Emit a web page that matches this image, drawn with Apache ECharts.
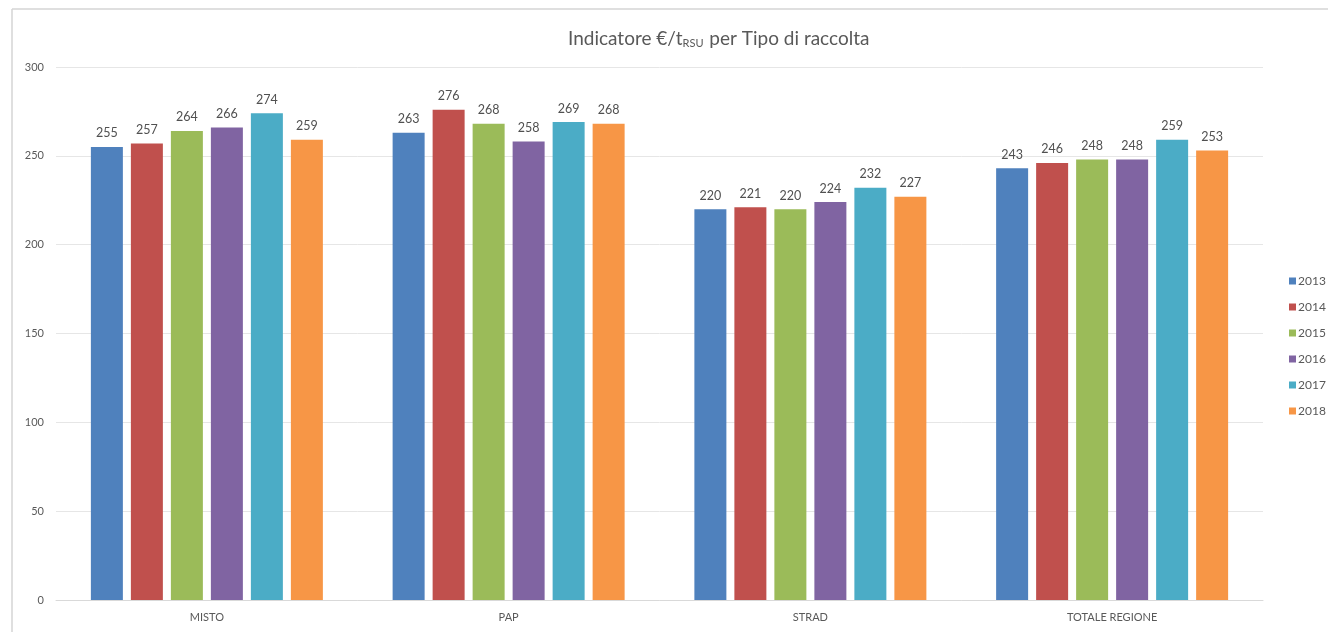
<!DOCTYPE html>
<html>
<head>
<meta charset="utf-8">
<script src="https://cdn.jsdelivr.net/npm/echarts@6/dist/echarts.min.js"></script>
<style>
  html, body { margin: 0; padding: 0; background: #fff; }
  #chart { width: 1328px; height: 632px; }
</style>
</head>
<body>
<div id="chart"></div>
<script>
// Collection types on the x axis
const categories = ['MISTO', 'PAP', 'STRAD', 'TOTALE REGIONE'];
// Years shown as series
const years = ['2013', '2014', '2015', '2016', '2017', '2018'];
// €/t values per year, one entry per collection type
const v2013 = [255, 263, 220, 243];
const v2014 = [257, 276, 221, 246];
const v2015 = [264, 268, 220, 248];
const v2016 = [266, 258, 224, 248];
const v2017 = [274, 269, 232, 259];
const v2018 = [259, 268, 227, 253];
const seriesValues = [v2013, v2014, v2015, v2016, v2017, v2018];
const colors = ['#4F81BD', '#C0504D', '#9BBB59', '#8064A2', '#4BACC6', '#F79646'];

const FONT = 'Lato, "Open Sans", sans-serif';
const chart = echarts.init(document.getElementById('chart'));

chart.setOption({
  animation: false,
  textStyle: { fontFamily: FONT },
  // chart frame: only its top and left edges fall inside the page
  graphic: [
    { type: 'line', shape: { x1: 12, y1: 9, x2: 1328, y2: 9 }, style: { stroke: '#d4d4d4', lineWidth: 1.5 }, z: -1 },
    { type: 'line', shape: { x1: 12, y1: 9, x2: 12, y2: 632 }, style: { stroke: '#d4d4d4', lineWidth: 1.5 }, z: -1 }
  ],
  title: {
    text: 'Indicatore €/t{sub|RSU} per Tipo di raccolta',
    left: 563,
    top: 23,
    textStyle: {
      fontFamily: FONT,
      fontSize: 19,
      fontWeight: 'normal',
      color: '#595959',
      rich: {
        sub: { fontSize: 11, color: '#595959', fontFamily: FONT, padding: [10, 1, 0, 0] }
      }
    }
  },
  legend: {
    orient: 'vertical',
    left: 1284,
    top: 270,
    itemWidth: 7,
    itemHeight: 7,
    itemGap: 14,
    icon: 'rect',
    textStyle: { fontSize: 12, color: '#595959', fontFamily: FONT, padding: [0, 0, 0, -3] },
    data: years
  },
  grid: { left: 56, right: 65, top: 67, bottom: 32 },
  xAxis: {
    type: 'category',
    data: categories,
    axisTick: { show: false },
    axisLine: { lineStyle: { color: '#d9d9d9' } },
    axisLabel: { color: '#595959', fontSize: 11, margin: 12, fontFamily: FONT }
  },
  yAxis: {
    type: 'value',
    min: 0,
    max: 300,
    interval: 50,
    axisLine: { show: false },
    axisTick: { show: false },
    splitLine: { lineStyle: { color: '#e6e6e6' } },
    axisLabel: { color: '#595959', fontSize: 11, margin: 12, fontFamily: FONT }
  },
  series: years.map((y, i) => ({
    name: y,
    type: 'bar',
    data: seriesValues[i],
    barWidth: 32,
    barGap: '25%',
    itemStyle: { color: colors[i] },
    label: {
      show: true,
      position: 'top',
      distance: 7,
      color: '#505050',
      fontSize: 12.5,
      fontFamily: FONT
    }
  }))
});
</script>
</body>
</html>
